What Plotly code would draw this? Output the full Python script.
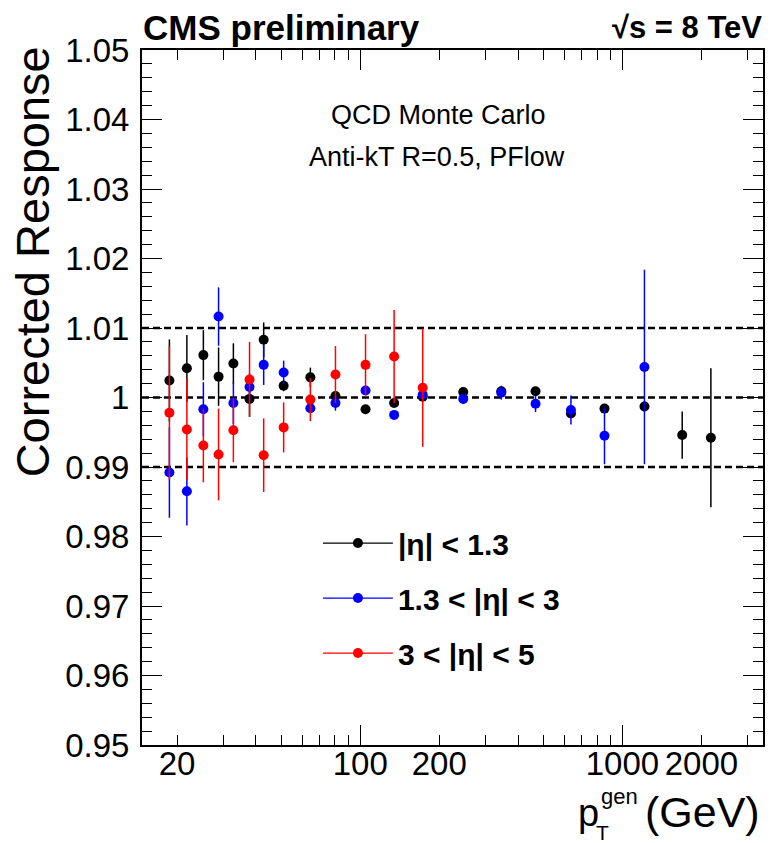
import numpy as np
import plotly.graph_objects as go

# ---------------- data ----------------
pt_bins = [18.7, 21.8, 25.2, 28.8, 32.8, 37.8, 42.8, 51.0, 64.5, 80.4, 104.7,
           134.6, 173.0, 247, 345, 466, 636, 854, 1213, 1690, 2174]

black_y = [1.00245, 1.0042, 1.0061, 1.0030, 1.0049, 0.9998, 1.0083, 1.0017,
           1.0029, 1.0002, 0.9983, 0.9992, 1.0001, 1.0008, 1.0009, 1.0009,
           0.9977, 0.9984, 0.9987, 0.9946, 0.9942]
black_err = [0.0059, 0.0048, 0.0036, 0.0042, 0.0029, 0.0026, 0.0025, 0.0008,
             0.0014, 0.0005, 0.0003, 0.0004, 0.0003, 0.0003, 0.0003, 0.0004,
             0.0004, 0.0006, 0.0008, 0.0034, 0.0100]

blue_y = [0.9892, 0.9865, 0.9983, 1.01165, 0.9992, 1.0015, 1.0047, 1.0036,
          0.99846, 0.9992, 1.0010, 0.9975, 1.0004, 0.9998, 1.0007, 0.9991,
          0.9982, 0.9945, 1.0044]
blue_err = [0.0065, 0.0049, 0.0039, 0.0042, 0.0030, 0.0020, 0.0029, 0.0017,
            0.0007, 0.0011, 0.0004, 0.0004, 0.0003, 0.0007, 0.0010, 0.0012,
            0.0021, 0.0041, 0.0140]

red_y = [0.9978, 0.9954, 0.9931, 0.9918, 0.9953, 1.0026, 0.9917, 0.9957,
         0.9997, 1.0033, 1.0047, 1.0059, 1.0014]
red_err = [0.0096, 0.0073, 0.0053, 0.0066, 0.0046, 0.0054, 0.0053, 0.0036,
           0.0031, 0.0041, 0.0044, 0.0067, 0.0085]

series_names = ["<b>|η| &lt; 1.3</b>", "<b>1.3 &lt; |η| &lt; 3</b>", "<b>3 &lt; |η| &lt; 5</b>"]
series_colors = ["#000000", "#0000ff", "#ff0000"]

ref_lines = [0.99, 1.0, 1.01]

y_tickvals = [0.95, 0.96, 0.97, 0.98, 0.99, 1.0, 1.01, 1.02, 1.03, 1.04, 1.05]
y_ticktext = ["0.95", "0.96", "0.97", "0.98", "0.99", "1", "1.01", "1.02", "1.03", "1.04", "1.05"]
x_labelvals = [20, 100, 200, 1000, 2000]
x_labeltext = ["20", "100", "200", "1000", "2000"]
x_majorvals = [100, 1000]
x_range = [14.7, 3436]
y_range = [0.95, 1.05]

FONT = "Liberation Sans, Arial, Helvetica, sans-serif"

fig = go.Figure()

datasets = [
    (pt_bins[:len(black_y)], black_y, black_err),
    (pt_bins[:len(blue_y)], blue_y, blue_err),
    (pt_bins[:len(red_y)], red_y, red_err),
]
for (xs, ys, es), name, col in zip(datasets, series_names, series_colors):
    fig.add_trace(go.Scatter(
        x=xs, y=ys, mode="markers", name=name, showlegend=False,
        marker=dict(color=col, size=10, symbol="circle"),
        error_y=dict(type="data", array=es, visible=True, color=col,
                     thickness=1.5, width=0),
        xaxis="x", yaxis="y",
    ))

# legend entries (line + marker, like the ROOT legend)
for i, (name, col) in enumerate(zip(series_names, series_colors)):
    fig.add_trace(go.Scatter(
        x=[None], y=[None], mode="lines+markers", name=name,
        line=dict(color=col, width=1.2),
        marker=dict(color=col, size=10),
        legendgroup=f"g{i}", showlegend=True,
        xaxis="x2", yaxis="y",
    ))

for v in ref_lines:
    fig.add_shape(type="line", xref="paper", x0=0, x1=1, yref="y", y0=v, y1=v,
                  line=dict(color="black", width=2.5, dash="7px,4px"), layer="below")

lx = [np.log10(x_range[0]), np.log10(x_range[1])]

# the page body has an 8px margin, so the figure is 8px smaller than the window
fig.update_layout(
    width=766, height=835,
    margin=dict(l=134, r=9, t=42, b=98, pad=0),
    paper_bgcolor="white", plot_bgcolor="white",
    font=dict(family=FONT, color="black"),
    xaxis=dict(
        type="log", range=lx,
        tickvals=x_labelvals, ticktext=x_labeltext,
        ticks="inside", ticklen=10, tickwidth=1, tickcolor="black",
        minor=dict(ticks="inside", ticklen=10, tickwidth=1, tickcolor="black", dtick="D1"),
        showline=True, linewidth=2, linecolor="black", mirror="ticks",
        showgrid=False, zeroline=False,
        tickfont=dict(size=33, family=FONT, color="black"),
        ticklabelstandoff=-12,
    ),
    xaxis2=dict(
        type="log", range=lx, overlaying="x", anchor="y", side="bottom",
        tickvals=x_majorvals, showticklabels=False,
        ticks="inside", ticklen=20, tickwidth=1, tickcolor="black",
        showline=False, mirror="ticks", showgrid=False, zeroline=False,
    ),
    yaxis=dict(
        range=y_range,
        tickvals=y_tickvals, ticktext=y_ticktext,
        ticks="inside", ticklen=20, tickwidth=1, tickcolor="black",
        minor=dict(ticks="inside", ticklen=10, tickwidth=1, tickcolor="black", dtick=0.002),
        showline=True, linewidth=2, linecolor="black", mirror="ticks",
        showgrid=False, zeroline=False,
        tickfont=dict(size=33, family=FONT, color="black"),
        ticklabelstandoff=4,
    ),
    legend=dict(
        x=0.2833, y=0.328, xanchor="left", yanchor="top",
        bgcolor="rgba(0,0,0,0)", borderwidth=0,
        font=dict(size=30, family=FONT, color="black"),
        tracegroupgap=13, itemwidth=70,
    ),
)

def px2paper_x(px):
    return (px - 142) / 623.0

def px2paper_y(py):
    return (744.5 - py) / 695.0

annos = [
    dict(text="<b>CMS preliminary</b>", x=px2paper_x(141), y=px2paper_y(27),
         xanchor="left", yanchor="middle", font=dict(size=35)),
    dict(text="<b>√s = 8 TeV</b>", x=px2paper_x(766), y=px2paper_y(27),
         xanchor="right", yanchor="middle", font=dict(size=31)),
    dict(text="QCD Monte Carlo", x=px2paper_x(439), y=px2paper_y(114),
         xanchor="center", yanchor="middle", font=dict(size=27)),
    dict(text="Anti-kT R=0.5, PFlow", x=px2paper_x(437.5), y=px2paper_y(156),
         xanchor="center", yanchor="middle", font=dict(size=27)),
    dict(text="Corrected Response", x=px2paper_x(32), y=px2paper_y(44),
         xanchor="center", yanchor="top", textangle=-90, font=dict(size=47)),
    dict(text="p", x=px2paper_x(577), y=px2paper_y(812),
         xanchor="left", yanchor="middle", font=dict(size=38)),
    dict(text="gen", x=px2paper_x(600), y=px2paper_y(796),
         xanchor="left", yanchor="middle", font=dict(size=22)),
    dict(text="T", x=px2paper_x(595), y=px2paper_y(832),
         xanchor="left", yanchor="middle", font=dict(size=21)),
    dict(text="(GeV)", x=px2paper_x(645), y=px2paper_y(811),
         xanchor="left", yanchor="middle", font=dict(size=43)),
]
for a in annos:
    a.setdefault("xref", "paper")
    a.setdefault("yref", "paper")
    a["showarrow"] = False
    a["font"] = dict(family=FONT, color="black", **a["font"])
    fig.add_annotation(**a)

fig.write_html("out.html")
